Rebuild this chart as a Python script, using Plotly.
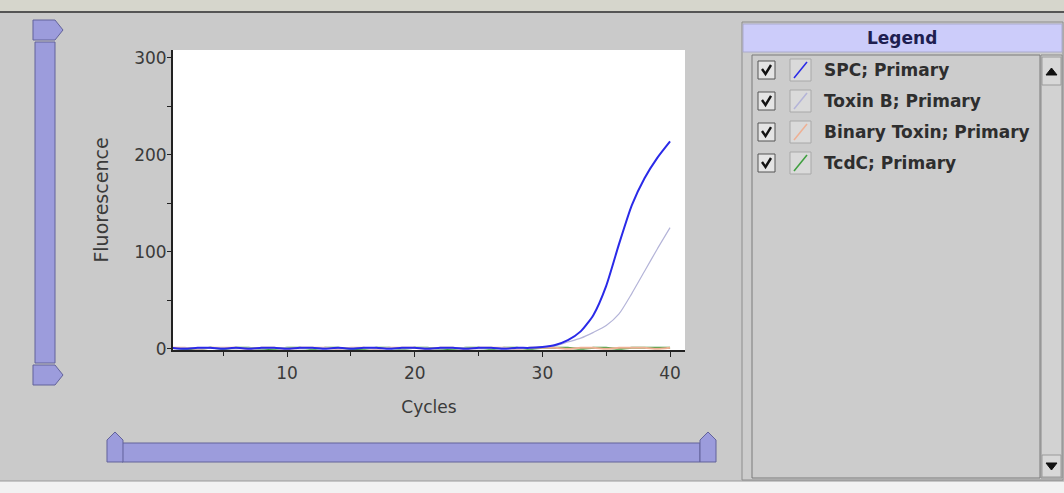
import plotly.graph_objects as go

# ---------------- data ----------------
cycles = list(range(1, 41))
spc = [1, 0, 1, 1, 0, 1, 0, 1, 1, 0, 1, 1, 0, 1, 0, 1, 1, 0, 1, 1,
       0, 1, 1, 0, 1, 1, 0, 1, 1, 2, 4, 9, 18, 35, 65, 108, 148, 176, 197, 214]
toxin_b = [0, 1, 0, 1, 1, 0, 1, 0, 1, 1, 0, 1, 1, 0, 1, 1, 0, 1, 0, 1,
           1, 0, 1, 1, 0, 1, 1, 0, 1, 2, 3, 7, 11, 17, 24, 36, 57, 80, 103, 125]
binary_toxin = [1, 1, 0, 1, 1, 1, 0, 1, 1, 0, 1, 1, 1, 0, 1, 1, 0, 1, 1, 1,
                0, 1, 1, 0, 1, 1, 1, 0, 1, 1, 1, 0, 1, 1, 0, 1, 1, 1, 0, 1]
tcdc = [1, 0, 0, 1, 0, 1, 1, 0, 0, 1, 1, 0, 1, 1, 0, 0, 1, 1, 0, 1,
        1, 0, 0, 1, 1, 0, 1, 1, 0, 1, 1, 1, 0, 1, 1, 0, 1, 1, 1, 1]

series_names = ["SPC; Primary", "Toxin B; Primary", "Binary Toxin; Primary", "TcdC; Primary"]
series_values = [spc, toxin_b, binary_toxin, tcdc]
series_colors = ["#2a2ae8", "#b4b4d8", "#eeb094", "#3f9f3f"]
series_widths = [2, 1.2, 2, 2]

x_ticks = [10, 20, 30, 40]
y_ticks = [0, 100, 200, 300]

FONT = "DejaVu Sans"

# ---------------- geometry helpers (decor only) ----------------
W, H = 1064, 493
PL, PR, PT, PB = 173, 685, 50, 350


def px(x):
    return (x - PL) / (PR - PL)


def py(y):
    return (PB - y) / (PB - PT)


fig = go.Figure()
# baseline traces drawn first so the rising curves sit on top
order = [3, 2, 1, 0]
for i in order:
    fig.add_trace(go.Scatter(x=cycles, y=series_values[i], mode="lines", name=series_names[i],
                             line=dict(color=series_colors[i], width=series_widths[i],
                                       shape="spline", smoothing=0.6),
                             showlegend=False))

shapes = []


def rect(x0, y0, x1, y1, fill, line="rgba(0,0,0,0)", lw=1, layer="above"):
    shapes.append(dict(type="rect", xref="paper", yref="paper",
                       x0=px(x0), x1=px(x1), y0=py(y0), y1=py(y1),
                       fillcolor=fill, line=dict(color=line, width=lw), layer=layer))


def poly(points, fill, line, lw=1, closed=True):
    p = "M " + " L ".join(f"{px(a):.5f},{py(b):.5f}" for a, b in points) + (" Z" if closed else "")
    shapes.append(dict(type="path", xref="paper", yref="paper", path=p,
                       fillcolor=fill, line=dict(color=line, width=lw), layer="above"))


def seg(x0, y0, x1, y1, color, lw=1):
    shapes.append(dict(type="line", xref="paper", yref="paper",
                       x0=px(x0), x1=px(x1), y0=py(y0), y1=py(y1),
                       line=dict(color=color, width=lw), layer="above"))


# top strip
rect(0, 0, W, 11, "#d6d6cc")
seg(0, 12, W, 12, "#555555", 2)
# bottom strip
rect(0, 481, W, H, "#f2f2f2")
seg(0, 481, W, 481, "#9a9a9a", 1)

SL_FILL = "#9c9cdc"
SL_LINE = "#62629a"
# left vertical slider
rect(35, 42, 55, 363, SL_FILL, SL_LINE, 1)
poly([(33, 20), (55, 20), (63, 30), (55, 40), (33, 40)], SL_FILL, SL_LINE)
poly([(33, 365), (55, 365), (63, 375), (55, 385), (33, 385)], SL_FILL, SL_LINE)
# bottom horizontal slider
rect(122, 443, 700, 462, SL_FILL, SL_LINE, 1)
poly([(107, 462), (107, 440), (115, 432), (123, 440), (123, 462)], SL_FILL, SL_LINE)
poly([(700, 462), (700, 440), (708, 432), (716, 440), (716, 462)], SL_FILL, SL_LINE)

# legend panel
rect(742, 22, 1063, 480, "#cccccc", "#8c8c8c", 1)
rect(743, 24, 1062, 52, "#ccccfa", "#aaaacc", 1)
rect(752, 55, 1040, 478, "#cccccc", "#7a7a7a", 1)
rect(1041, 55, 1062, 478, "#d2d2d2", "#8a8a8a", 1)
rect(1042, 57, 1061, 85, "#d8d8d8", "#9a9a9a", 1)
rect(1042, 455, 1061, 477, "#d8d8d8", "#9a9a9a", 1)
poly([(1046, 75), (1057, 75), (1051.5, 68)], "#111111", "#111111")
poly([(1046, 463), (1057, 463), (1051.5, 470)], "#111111", "#111111")

annotations = []


def label(x, y, text, size, color, xanchor="center", family=FONT):
    annotations.append(dict(x=px(x), y=py(y), xref="paper", yref="paper",
                            xanchor=xanchor, yanchor="middle", text=text, showarrow=False,
                            font=dict(family=family, size=size, color=color)))


label(902, 38, "<b>Legend</b>", 17, "#1e1e50")

row_y = [70, 101, 132, 163]
for name, col, ry in zip(series_names, series_colors, row_y):
    rect(758, ry - 9, 775, ry + 9, "#e4e4e4", "#555555", 1)
    poly([(762, ry - 1), (765.5, ry + 4), (771, ry - 5)], "rgba(0,0,0,0)", "#111111", 2.4, closed=False)
    rect(790, ry - 11, 811, ry + 11, "#dadada", "#a8a8a8", 1)
    seg(794, ry + 8, 807, ry - 8, col, 1.6)
    label(822, ry, f"<b>{name}</b>", 17, "#2e2e2e", xanchor="left")

fig.update_layout(
    width=W, height=H,
    margin=dict(l=PL, r=W - PR, t=PT, b=H - PB, pad=0),
    paper_bgcolor="#cacaca",
    plot_bgcolor="#ffffff",
    font=dict(family=FONT, color="#3a3a3a", size=17),
    shapes=shapes,
    annotations=annotations,
    showlegend=False,
)
fig.update_xaxes(
    range=[1.07, 41.17], tickvals=x_ticks, ticktext=[str(v) for v in x_ticks],
    ticks="outside", ticklen=5, tickwidth=1, tickcolor="#222222",
    minor=dict(tickvals=[5, 15, 25, 35], ticks="outside", ticklen=4, tickcolor="#222222"),
    showline=True, linecolor="#222222", linewidth=2, showgrid=False, zeroline=False,
    tickfont=dict(family=FONT, size=17, color="#3a3a3a"), ticklabelstandoff=2,
    title=dict(text="Cycles", font=dict(family=FONT, size=17, color="#3a3a3a"), standoff=19),
)
fig.update_yaxes(
    range=[-1.2, 308.2], tickvals=y_ticks, ticktext=[str(v) for v in y_ticks],
    ticks="outside", ticklen=4, tickwidth=1, tickcolor="#222222",
    minor=dict(tickvals=[50, 150, 250], ticks="outside", ticklen=4, tickcolor="#222222"),
    showline=True, linecolor="#222222", linewidth=2, showgrid=False, zeroline=False,
    tickfont=dict(family=FONT, size=17, color="#3a3a3a"), ticklabelstandoff=-3,
    title=dict(text="Fluorescence", font=dict(family=FONT, size=19, color="#3a3a3a"), standoff=20),
)

fig.write_html("out.html", post_script="document.body.style.margin='0';",
               config={"displayModeBar": False})
